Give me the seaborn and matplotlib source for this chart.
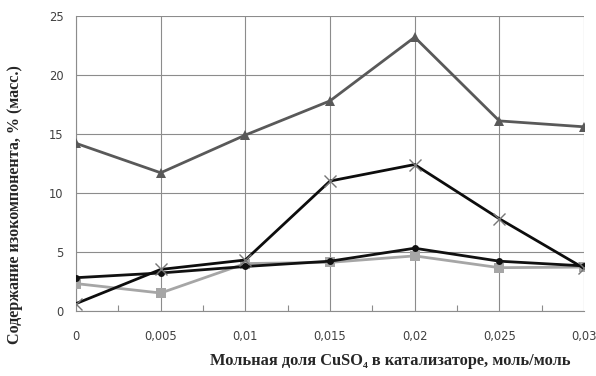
import matplotlib
matplotlib.use("Agg")
import matplotlib.pyplot as plt
import seaborn as sns
import numpy as np
import pandas as pd

x_vals = [0, 0.005, 0.01, 0.015, 0.02, 0.025, 0.03]
x_labels = ["0", "0,005", "0,01", "0,015", "0,02", "0,025", "0,03"]
triangle_vals = [14.2, 11.7, 14.9, 17.8, 23.2, 16.1, 15.6]
cross_vals = [0.6, 3.5, 4.3, 11.0, 12.4, 7.8, 3.6]
circle_vals = [2.8, 3.2, 3.75, 4.2, 5.3, 4.2, 3.8]
square_vals = [2.3, 1.5, 4.0, 4.1, 4.65, 3.65, 3.7]
y_ticks = [0, 5, 10, 15, 20, 25]

sns.set_theme(style="white")
plt.rcParams['font.family'] = ['DejaVu Sans']

fig = plt.figure(figsize=(5.96, 3.76), dpi=100)
ax = fig.add_axes([76/596, 1-310.7/376, (584-76)/596, (310.7-16)/376])

sns.lineplot(x=x_vals, y=square_vals, ax=ax, color="#a6a6a6", lw=2.0,
             marker="s", markersize=7, markeredgewidth=0, zorder=3)
sns.lineplot(x=x_vals, y=circle_vals, ax=ax, color="#111111", lw=2.0,
             marker="o", markersize=5, markeredgewidth=0, zorder=4)
sns.lineplot(x=x_vals, y=triangle_vals, ax=ax, color="#595959", lw=2.0,
             marker="^", markersize=7, markeredgewidth=0, zorder=4)
sns.lineplot(x=x_vals, y=cross_vals, ax=ax, color="#0d0d0d", lw=2.0,
             marker="x", markersize=8, markeredgewidth=1.0,
             markeredgecolor="#777777", zorder=5)

ax.set_xlim(0, 0.03)
ax.set_ylim(0, 25)
ax.set_xticks(x_vals)
ax.set_xticklabels(x_labels)
ax.set_xticks([0.0025, 0.0075, 0.0125, 0.0175, 0.0225, 0.0275], minor=True)
ax.set_yticks(y_ticks)
ax.set_yticklabels([str(v) for v in y_ticks])
ax.grid(True, which="major", color="#8c8c8c", lw=0.8)
ax.tick_params(axis="both", which="major", length=0, labelsize=8.3,
               labelcolor="#404040")
ax.tick_params(axis="x", which="major", pad=14)
ax.tick_params(axis="y", which="major", pad=9)
ax.tick_params(axis="x", which="minor", direction="in", length=4,
               color="#8c8c8c", width=0.8, bottom=True)
for s in ["top", "right"]:
    ax.spines[s].set_visible(False)
ax.spines["left"].set_color("#8c8c8c")
ax.spines["bottom"].set_color("#8c8c8c")
ax.spines["left"].set_linewidth(0.8)
ax.spines["bottom"].set_linewidth(0.8)

ax.set_ylabel("")
ax.set_xlabel("")
fig.text(15/596, 1-205/376, "Содержание изокомпонента, % (масс.)",
         rotation=90, ha="center", va="center", fontsize=11.6,
         fontweight="bold", family="Liberation Serif")
fig.text(390/596, 1-361/376, "Мольная доля CuSO₄ в катализаторе, моль/моль",
         ha="center", va="center", fontsize=11.8, fontweight="bold",
         family="Liberation Serif")

fig.savefig("out.png", dpi=100)
